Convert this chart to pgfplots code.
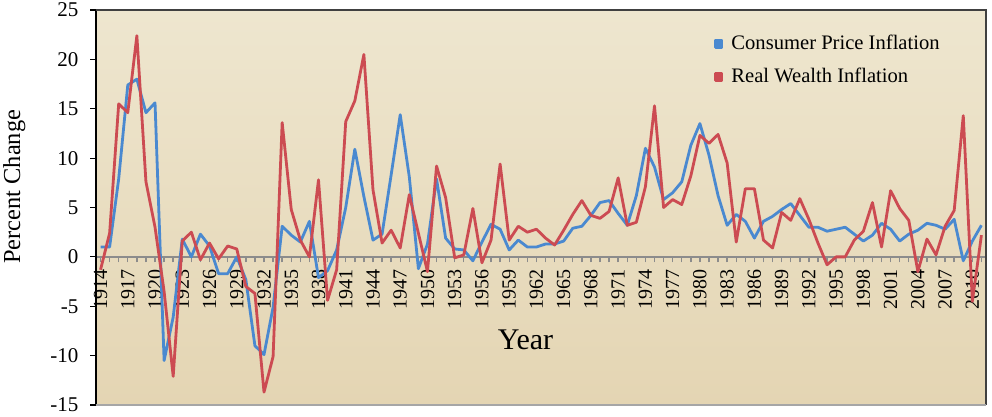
\documentclass[border=0pt]{standalone}
\usepackage{pgfplots}
\pgfplotsset{compat=1.18}
\usepackage{pgfplotstable}
\usepackage{fontspec}
\setmainfont{Liberation Serif}
\definecolor{cpiblue}{HTML}{4A89D0}
\definecolor{rwred}{HTML}{CC4B52}
\definecolor{bgtop}{HTML}{EEE6CF}
\definecolor{bgmid}{HTML}{F8F2E2}
\definecolor{bgbot}{HTML}{E4D5B3}
\definecolor{zerogray}{HTML}{8C8C8C}
\pgfplotstableread{
year cpi rwi
1914 1.0 -1.3
1915 1.0 2.4
1916 7.9 15.5
1917 17.4 14.6
1918 18.0 22.4
1919 14.6 7.6
1920 15.6 3.0
1921 -10.5 -3.5
1922 -6.1 -12.1
1923 1.8 1.6
1924 0.0 2.5
1925 2.3 -0.3
1926 1.1 1.4
1927 -1.7 -0.2
1928 -1.7 1.1
1929 0.0 0.8
1930 -2.3 -3.0
1931 -9.0 -3.7
1932 -9.9 -13.7
1933 -5.1 -10.1
1934 3.1 13.6
1935 2.2 4.8
1936 1.5 1.7
1937 3.6 0.0
1938 -2.1 7.8
1939 -1.4 -4.4
1940 0.7 -1.3
1941 5.0 13.7
1942 10.9 15.8
1943 6.1 20.5
1944 1.7 6.8
1945 2.3 1.4
1946 8.3 2.7
1947 14.4 0.9
1948 8.1 6.3
1949 -1.2 2.4
1950 1.3 -1.5
1951 7.9 9.2
1952 1.9 6.0
1953 0.8 -0.1
1954 0.7 0.2
1955 -0.4 4.9
1956 1.5 -0.6
1957 3.3 1.7
1958 2.8 9.4
1959 0.7 1.7
1960 1.7 3.1
1961 1.0 2.5
1962 1.0 2.8
1963 1.3 1.9
1964 1.3 1.2
1965 1.6 2.7
1966 2.9 4.3
1967 3.1 5.7
1968 4.2 4.2
1969 5.5 3.9
1970 5.7 4.6
1971 4.4 8.0
1972 3.2 3.2
1973 6.2 3.5
1974 11.0 7.1
1975 9.1 15.3
1976 5.8 5.0
1977 6.5 5.8
1978 7.6 5.3
1979 11.3 8.2
1980 13.5 12.3
1981 10.3 11.5
1982 6.2 12.4
1983 3.2 9.5
1984 4.3 1.5
1985 3.6 6.9
1986 1.9 6.9
1987 3.6 1.7
1988 4.1 0.9
1989 4.8 4.5
1990 5.4 3.7
1991 4.2 5.9
1992 3.0 3.8
1993 3.0 1.4
1994 2.6 -0.8
1995 2.8 0.0
1996 3.0 0.0
1997 2.3 1.7
1998 1.6 2.6
1999 2.2 5.5
2000 3.4 1.0
2001 2.8 6.7
2002 1.6 4.9
2003 2.3 3.7
2004 2.7 -1.5
2005 3.4 1.8
2006 3.2 0.2
2007 2.8 3.1
2008 3.8 4.7
2009 -0.4 14.3
2010 1.6 -4.5
2011 3.2 2.2
}\datatable
\begin{document}
\begin{tikzpicture}
\fill[white] (-48pt,-6pt) rectangle (448pt,202.5pt);
\begin{axis}[
  at={(0,0)}, anchor=south west,
  scale only axis,
  width=445pt, height=197.5pt,
  xmin=1913.5, xmax=2011.5,
  ymin=-15, ymax=25,
  ytick={-15,-10,...,25},
  xtick distance=3,
  minor x tick num=2,
  axis x line*=middle,
  axis y line*=left,
  tick align=outside,
  major tick length=2.8pt,
  minor tick length=2.8pt,
  clip=false,
  axis background/.style={shade, top color=bgtop, middle color=bgmid, bottom color=bgbot},
  x axis line style={draw=zerogray, line width=1pt},
  y axis line style={draw=black, line width=0.8pt},
  xtick style={draw=zerogray, line width=0.7pt},
  minor x tick style={draw=zerogray, line width=0.7pt},
  ytick style={draw=black, line width=0.6pt},
  /pgf/number format/1000 sep={},
  /pgf/number format/assume math mode=true,
  xticklabel style={rotate=90, anchor=east, font=\fontsize{10}{12}\selectfont},
  yticklabel style={font=\fontsize{10.5}{12}\selectfont, xshift=-2.5pt},
  legend cell align=left,
  legend image code/.code={\fill[#1] (0pt,-1.8pt) rectangle (3.3pt,1.8pt);},
  legend style={at={(0.694,0.948)}, anchor=north west, draw=none, fill=none,
    inner sep=0pt, row sep=4pt, column sep=2pt,
    font=\fontsize{10.3}{12}\selectfont},
]
\addplot[color=cpiblue, line width=1.4pt, line join=round] table[x=year, y=cpi] {\datatable};
\addlegendentry{Consumer Price Inflation}
\addplot[color=rwred, line width=1.4pt, line join=round] table[x=year, y=rwi] {\datatable};
\addlegendentry{Real Wealth Inflation}
\draw[black!75, line width=0.8pt] (rel axis cs:0,1) -- (rel axis cs:1,1) -- (rel axis cs:1,0);
\draw[black!35, line width=0.8pt] (rel axis cs:0,0) -- (rel axis cs:1,0);
\node[font=\fontsize{15}{17}\selectfont] at (axis cs:1960.8,-8.4) {Year};
\node[rotate=90, font=\fontsize{12.2}{14}\selectfont] at (axis cs:1904.5,7.1) {Percent Change};
\end{axis}
\pgfresetboundingbox
\path (-48pt,-6pt) rectangle (448pt,202.5pt);
\end{tikzpicture}
\end{document}
